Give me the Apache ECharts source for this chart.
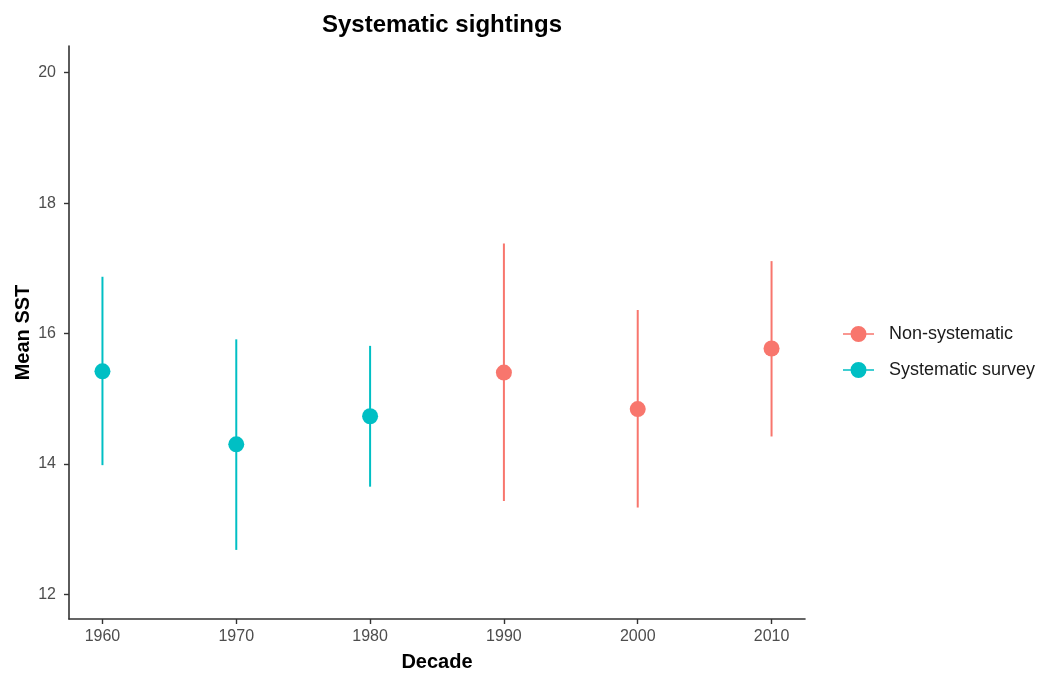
<!DOCTYPE html>
<html>
<head>
<meta charset="utf-8">
<script src="https://cdn.jsdelivr.net/npm/echarts@6/dist/echarts.min.js"></script>
<style>html,body{margin:0;padding:0;background:#fff}#chart{width:1041px;height:677px}</style>
</head>
<body>
<div id="chart"></div>
<script>
// ---- data ----
const decades = [1960, 1970, 1980, 1990, 2000, 2010];
const groups  = ['Systematic survey', 'Systematic survey', 'Systematic survey', 'Non-systematic', 'Non-systematic', 'Non-systematic'];
const means   = [15.42, 14.30, 14.73, 15.40, 14.84, 15.77];
const lower   = [13.98, 12.68, 13.65, 13.43, 13.33, 14.42];
const upper   = [16.87, 15.91, 15.81, 17.38, 16.36, 17.11];
const xTicks  = [1960, 1970, 1980, 1990, 2000, 2010];
const yTicks  = [12, 14, 16, 18, 20];
const seriesNames = ['Non-systematic', 'Systematic survey'];
const colors = {'Non-systematic': '#F8766D', 'Systematic survey': '#00BFC4'};

const FONT = "'Liberation Sans', Arial, Helvetica, sans-serif";
const legendIcon = 'path://M0,7.25 L8,7.25 L8,8.75 L0,8.75 Z M23,7.25 L31,7.25 L31,8.75 L23,8.75 Z M7.5,8 A8,8 0 1,1 23.5,8 A8,8 0 1,1 7.5,8 Z';

function rowsFor(name) {
  const out = [];
  decades.forEach((d, i) => { if (groups[i] === name) out.push([d, means[i], lower[i], upper[i]]); });
  return out;
}

const series = [];
seriesNames.forEach(name => {
  const rows = rowsFor(name);
  series.push({
    name: name,
    type: 'custom',
    data: rows,
    encode: {x: 0, y: [2, 3]},
    itemStyle: {color: colors[name]},
    renderItem: function (params, api) {
      const x = api.value(0);
      const p1 = api.coord([x, api.value(2)]);
      const p2 = api.coord([x, api.value(3)]);
      return {
        type: 'line',
        shape: {x1: p1[0], y1: p1[1], x2: p2[0], y2: p2[1]},
        style: {stroke: colors[name], lineWidth: 2}
      };
    },
    z: 2
  });
  series.push({
    name: name,
    type: 'scatter',
    data: rows.map(r => [r[0], r[1]]),
    symbol: 'circle',
    symbolSize: 16,
    itemStyle: {color: colors[name], opacity: 1},
    z: 3
  });
});

const chart = echarts.init(document.getElementById('chart'), null, {renderer: 'canvas'});
chart.setOption({
  animation: false,
  backgroundColor: '#fff',
  title: {
    text: 'Systematic sightings',
    left: 437, top: 8,
    textAlign: 'center',
    textStyle: {fontFamily: FONT, fontSize: 24, fontWeight: 'bold', color: '#000'}
  },
  legend: {
    orient: 'vertical',
    left: 838, top: 320,
    itemWidth: 31, itemHeight: 16,
    itemGap: 18,
    data: seriesNames.map(n => ({name: n, icon: legendIcon, itemStyle: {color: colors[n]}})),
    textStyle: {fontFamily: FONT, fontSize: 18, color: '#1a1a1a', padding: [0, 0, 0, 10]}
  },
  grid: {left: 69, right: 236, top: 46, bottom: 55, containLabel: false},
  xAxis: {
    type: 'value',
    min: 1957.5, max: 2012.5,
    name: 'Decade',
    nameLocation: 'middle',
    nameGap: 33,
    nameMoveOverlap: false,
    nameTextStyle: {fontFamily: FONT, fontSize: 20, fontWeight: 'bold', color: '#000'},
    axisLine: {show: true, onZero: false, lineStyle: {color: '#333', width: 1.6}},
    axisTick: {show: true, length: 5, customValues: xTicks, lineStyle: {color: '#333', width: 1.4}},
    axisLabel: {customValues: xTicks, margin: 10, fontFamily: FONT, fontSize: 16, color: '#4d4d4d', formatter: v => String(v)},
    splitLine: {show: false}
  },
  yAxis: {
    type: 'value',
    min: 11.62, max: 20.41,
    name: 'Mean SST',
    nameLocation: 'middle',
    nameGap: 36,
    nameRotate: 90,
    nameMoveOverlap: false,
    nameTextStyle: {fontFamily: FONT, fontSize: 20, fontWeight: 'bold', color: '#000'},
    axisLine: {show: true, onZero: false, lineStyle: {color: '#333', width: 1.6}},
    axisTick: {show: true, length: 5, customValues: yTicks, lineStyle: {color: '#333', width: 1.4}},
    axisLabel: {customValues: yTicks, margin: 13, fontFamily: FONT, fontSize: 16, color: '#4d4d4d', formatter: v => String(v)},
    splitLine: {show: false}
  },
  series: series
});
</script>
</body>
</html>
